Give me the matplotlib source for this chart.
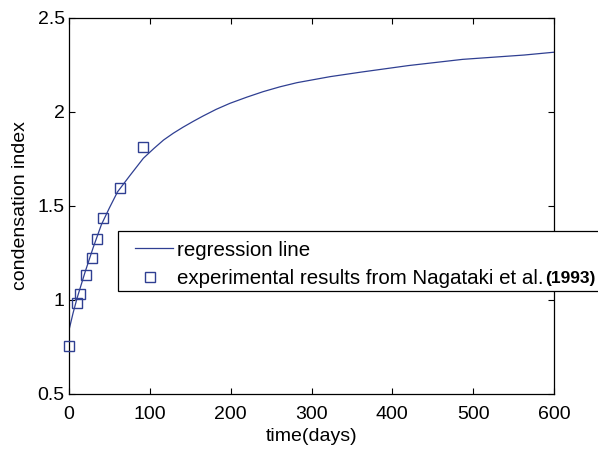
import matplotlib
matplotlib.use("Agg")
import matplotlib.pyplot as plt
from matplotlib.patches import Rectangle
from matplotlib.lines import Line2D

plt.rcParams['font.family'] = ['Liberation Sans', 'DejaVu Sans']

# regression curve
curve_days = [0, 5, 10, 15, 20, 25, 30, 35, 40, 50, 60, 75, 92, 105, 117,
              129, 141, 154, 166, 182, 199, 220, 240, 261, 282, 323, 361,
              420, 487, 563, 600]
curve_index = [0.84, 0.93, 1.01, 1.08, 1.15, 1.215, 1.28, 1.34, 1.40, 1.49,
               1.575, 1.66, 1.754, 1.806, 1.851, 1.887, 1.919, 1.951, 1.979,
               2.014, 2.046, 2.079, 2.108, 2.134, 2.156, 2.188, 2.212, 2.247,
               2.28, 2.303, 2.318]

# experimental points (Nagataki et al. 1993)
exp_days = [0, 10, 14, 21, 28, 35, 42, 63, 91]
exp_index = [0.755, 0.985, 1.03, 1.135, 1.225, 1.325, 1.435, 1.595, 1.815]

xticks = [0, 100, 200, 300, 400, 500, 600]
yticks = [0.5, 1, 1.5, 2, 2.5]
ytick_labels = ['0.5', '1', '1.5', '2', '2.5']

BLUE = '#2f3f92'
W, H = 598, 450

fig = plt.figure(figsize=(W / 100, H / 100), dpi=100, facecolor='white')
ax = fig.add_axes([69 / W, 1 - 394 / H, 485 / W, 376 / H])

ax.plot(curve_days, curve_index, color=BLUE, lw=0.9)
ax.plot(exp_days, exp_index, ls='none', marker='s', markersize=6.5,
        markerfacecolor='none', markeredgecolor=BLUE, markeredgewidth=1.0,
        clip_on=False, zorder=3)

ax.set_xlim(0, 600)
ax.set_ylim(0.5, 2.5)
ax.set_xticks(xticks)
ax.set_yticks(yticks)
ax.set_xticklabels([str(t) for t in xticks])
ax.set_yticklabels(ytick_labels)
ax.tick_params(direction='in', length=4, width=0.8, labelsize=14,
               top=True, right=True)
ax.tick_params(axis='x', pad=8.5)
ax.tick_params(axis='y', pad=3)
for s in ax.spines.values():
    s.set_linewidth(0.9)

ax.set_xlabel('time(days)', fontsize=14, labelpad=4)
ax.set_ylabel('condensation index', fontsize=14, labelpad=6)

# legend box drawn by hand (runs off the right edge as in the original)
def fx(px):
    return px / W

def fy(py):
    return 1 - py / H

frame = Rectangle((fx(118), fy(291)), fx(620) - fx(118), fy(231) - fy(291),
                  transform=fig.transFigure, facecolor='white',
                  edgecolor='black', lw=0.9, zorder=5)
fig.add_artist(frame)
fig.add_artist(Line2D([fx(135), fx(173)], [fy(248), fy(248)],
                      transform=fig.transFigure, color=BLUE, lw=0.9, zorder=6))
fig.add_artist(Line2D([fx(150)], [fy(277)], transform=fig.transFigure,
                      ls='none', marker='s', markersize=6.5,
                      markerfacecolor='none', markeredgecolor=BLUE,
                      markeredgewidth=1.0, zorder=6))
fig.text(fx(177), fy(248), 'regression line', fontsize=14.8,
         ha='left', va='center_baseline', zorder=6)
fig.text(fx(177), fy(277), 'experimental results from Nagataki et al.',
         fontsize=14.8, ha='left', va='center_baseline', zorder=6)
fig.text(fx(545), fy(277), '(1993)', fontsize=12.5, fontweight='bold',
         ha='left', va='center_baseline', zorder=6)

fig.savefig('out.png', dpi=100, facecolor='white')
